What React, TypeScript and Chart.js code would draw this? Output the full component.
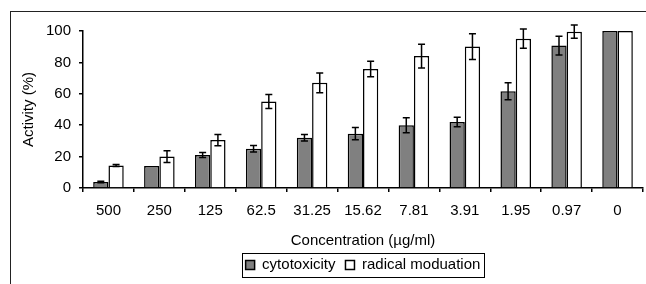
import React, { useEffect, useRef } from "react";
import { Chart, registerables } from "chart.js";

Chart.register(...registerables);

const categories = ["500", "250", "125", "62.5", "31.25", "15.62", "7.81", "3.91", "1.95", "0.97", "0"];
const cytotoxicity = [3.8, 14, 21, 25, 32, 34.6, 40, 42, 61.6, 90.7, 100];
const cytotoxicityErr = [0.5, 0, 1.6, 2, 2, 3.9, 4.8, 3, 5.4, 6, 0];
const radical = [14.3, 20, 30.5, 55.1, 67, 75.8, 84, 90.1, 95.1, 99.6, 100];
const radicalErr = [0.6, 3.8, 3.6, 4.4, 6.3, 5, 7.6, 8.2, 6.1, 4.2, 0];
const yTicks = [0, 20, 40, 60, 80, 100];

const FONT = "'Liberation Sans', Arial, sans-serif";
const FS = 15;

const errorBars = {
  id: "errorBars",
  afterDatasetsDraw(chart: any) {
    const ctx = chart.ctx;
    const y = chart.scales.y;
    const errs = [cytotoxicityErr, radicalErr];
    const vals = [cytotoxicity, radical];
    ctx.save();
    ctx.strokeStyle = "#000";
    ctx.lineWidth = 1.5;
    chart.data.datasets.forEach((_d: any, di: number) => {
      const meta = chart.getDatasetMeta(di);
      meta.data.forEach((bar: any, i: number) => {
        const e = errs[di][i];
        if (!e) return;
        const v = vals[di][i];
        const top = y.getPixelForValue(v + e);
        const bot = y.getPixelForValue(v - e);
        const x = bar.x;
        ctx.beginPath();
        ctx.moveTo(x, top);
        ctx.lineTo(x, bot);
        ctx.moveTo(x - 3.5, top);
        ctx.lineTo(x + 3.5, top);
        ctx.moveTo(x - 3.5, bot);
        ctx.lineTo(x + 3.5, bot);
        ctx.stroke();
      });
    });
    ctx.restore();
  },
};

const legendBorder = {
  id: "legendBorder",
  afterDraw(chart: any) {
    const lg = chart.legend;
    if (!lg || !lg.legendHitBoxes || !lg.legendHitBoxes.length) return;
    const boxes = lg.legendHitBoxes;
    let l = Infinity, r = -Infinity, t = Infinity, b = -Infinity;
    boxes.forEach((h: any) => {
      l = Math.min(l, h.left);
      r = Math.max(r, h.left + h.width);
      t = Math.min(t, h.top);
      b = Math.max(b, h.top + h.height);
    });
    const cy = (t + b) / 2;
    const ctx = chart.ctx;
    ctx.save();
    ctx.strokeStyle = "#000";
    ctx.lineWidth = 1;
    ctx.strokeRect(Math.round(l - 4) + 0.5, Math.round(cy - 12) + 0.5, Math.round(r - l + 7), 24);
    ctx.restore();
  },
};

export default function App() {
  const ref = useRef<HTMLCanvasElement>(null);
  useEffect(() => {
    if (!ref.current) return;
    const chart = new Chart(ref.current, {
      type: "bar",
      data: {
        labels: categories,
        datasets: [
          {
            label: "cytotoxicity",
            data: cytotoxicity,
            backgroundColor: "#808080",
            borderColor: "#000",
            borderWidth: 1.5,
            categoryPercentage: 0.6,
            barPercentage: 1,
          },
          {
            label: "radical moduation",
            data: radical,
            backgroundColor: "#ffffff",
            borderColor: "#000",
            borderWidth: 1.5,
            categoryPercentage: 0.6,
            barPercentage: 1,
          },
        ],
      },
      options: {
        animation: false,
        responsive: false,
        maintainAspectRatio: false,
        layout: { padding: { top: 31, right: 3, left: 0, bottom: 1.5 } },
        plugins: {
          tooltip: { enabled: false },
          legend: {
            position: "bottom",
            fullSize: false,
            labels: {
              color: "#000",
              font: { family: FONT, size: FS },
              boxWidth: 9,
              boxHeight: 9,
              padding: 10,
            },
          },
        },
        scales: {
          x: {
            afterFit(scale: any) {
              scale.height = 59.5;
            },
            grid: {
              display: true,
              drawOnChartArea: false,
              drawTicks: true,
              tickLength: 4,
              offset: true,
              color: "#000",
              lineWidth: 1.5,
            },
            border: { display: true, color: "#000", width: 1.5 },
            ticks: { color: "#000", font: { family: FONT, size: FS }, padding: 10, maxRotation: 0 },
            title: {
              display: true,
              text: "Concentration (µg/ml)",
              color: "#000",
              font: { family: FONT, size: FS },
              padding: { top: 0, bottom: -2.5 },
            },
          },
          y: {
            min: 0,
            max: 100,
            afterFit(scale: any) {
              scale.width = 83;
            },
            afterBuildTicks(scale: any) {
              scale.ticks = yTicks.map((v) => ({ value: v }));
            },
            grid: {
              display: true,
              drawOnChartArea: false,
              drawTicks: true,
              tickLength: 4,
              color: "#000",
              lineWidth: 1.5,
            },
            border: { display: true, color: "#000", width: 1.5 },
            ticks: { color: "#000", font: { family: FONT, size: FS }, padding: 8 },
            title: {
              display: true,
              text: "Activity (%)",
              color: "#000",
              font: { family: FONT, size: FS },
              padding: { top: 20, bottom: 0 },
            },
          },
        },
      } as any,
      plugins: [errorBars, legendBorder],
    });
    return () => chart.destroy();
  }, []);

  return (
    <div style={{ position: "absolute", left: 0, top: 0, width: 646, height: 284, background: "#fff", overflow: "hidden" }}>
      <div
        style={{
          position: "absolute",
          left: 10,
          top: 11,
          width: 700,
          height: 300,
          borderTop: "1.5px solid #222",
          borderLeft: "1.5px solid #222",
        }}
      />
      <canvas ref={ref} width={646} height={284} style={{ position: "absolute", left: 0, top: 0 }} />
    </div>
  );
}
